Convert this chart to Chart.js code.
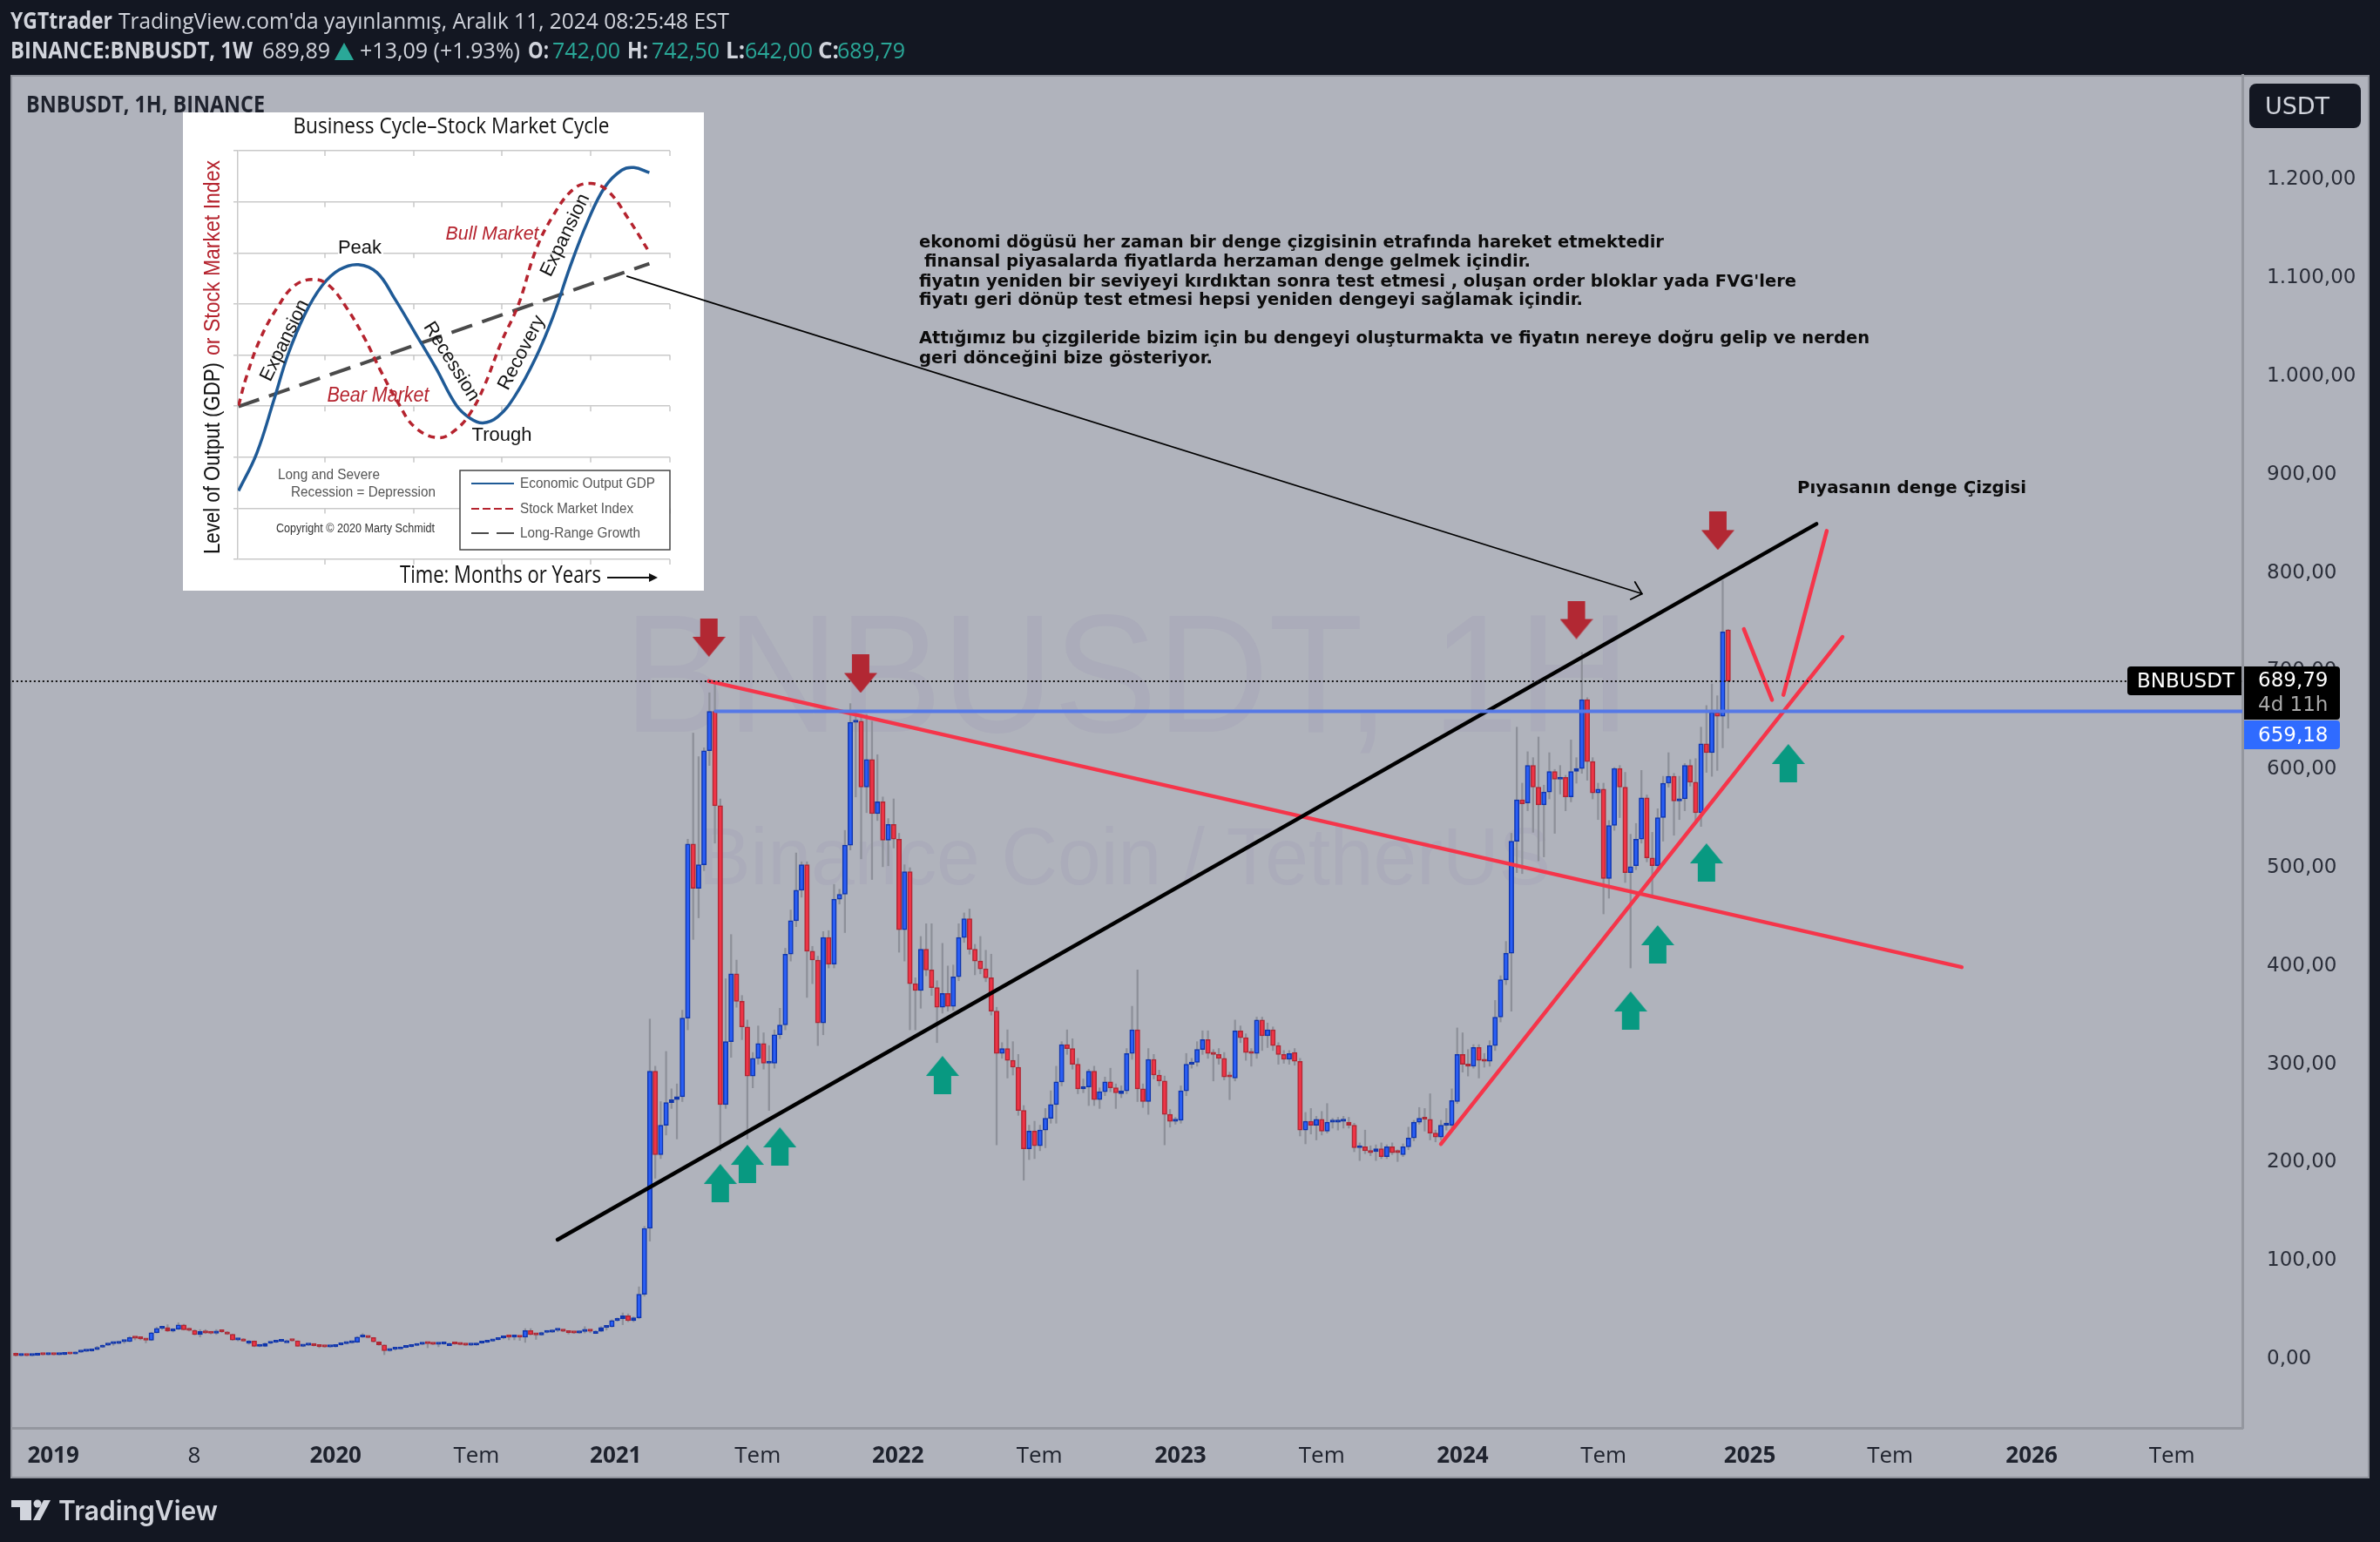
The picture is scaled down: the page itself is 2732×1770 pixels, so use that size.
<!DOCTYPE html>
<html lang="tr">
<head>
<meta charset="utf-8">
<title>BNBUSDT</title>
<script src="https://cdn.jsdelivr.net/npm/chart.js@4"></script>
<style>
    html, body { margin: 0; padding: 0; background: #131722; width: 2732px; height: 1770px; overflow: hidden; }
    #panel { position: absolute; left: 12px; top: 86px; width: 2708px; height: 1611px; box-sizing: border-box; background: #b0b3bc; border: 2px solid #8f929b; }
    #inset-box { position: absolute; left: 210px; top: 129px; width: 598px; height: 549px; background: #fff; }
    #inset { position: absolute; left: 0; top: 0; }
    #main { position: absolute; left: 0; top: 0; }
</style>
</head>
<body>
<div id="panel"></div>
<div id="inset-box"><canvas id="inset" width="598" height="549"></canvas></div>
<canvas id="main" width="2732" height="1770"></canvas>

<script>
// bougies hebdo (index 0 = nov. 2018)
const opens = [
    5.9,3.5,3.7,3.4,3.9,4.7,4.4,4.7,4.4,4.6,
    5.3,5.1,7.0,7.9,8.2,9.7,12.0,14.1,15.6,15.9,
    17.7,17.8,21.8,21.2,20.6,19.2,26.8,31.3,32.1,28.5,
    30.5,34.8,29.8,29.2,25.0,28.0,26.5,26.2,28.6,27.7,
    25.3,19.4,20.6,18.3,18.3,12.9,12.9,16.0,17.1,18.0,
    18.8,18.8,18.5,13.0,14.1,14.2,13.6,12.6,12.3,12.5,
    14.4,15.6,16.5,17.1,22.4,23.0,21.8,17.5,14.4,8.5,
    10.0,10.2,11.8,12.6,13.8,15.0,15.9,15.6,15.0,15.3,
    15.9,15.9,15.3,14.7,14.1,14.2,16.2,17.1,18.3,19.7,
    21.5,22.4,22.3,22.4,22.2,28.9,24.9,24.5,27.1,27.4,
    29.2,29.5,28.3,26.8,26.5,28.0,28.6,28.3,28.3,32.1,
    33.0,39.2,41.0,44.0,39.2,42.0,66,133,293,208,
    238,261,264,267,347,524,479,503,619,659,
    563,259,323,392,364,338,288,306,321,301,
    301,330,340,412,446,477,503,415,406,342,
    429,402,468,473,523,648,649,582,610,555,
    567,528,544,529,437,496,382,375,417,396,
    378,358,372,359,389,429,448,417,405,397,
    388,354,311,316,304,297,253,214,232,217,
    233,245,259,282,320,316,300,275,277,293,
    264,272,282,276,270,273,311,335,275,262,
    305,289,283,249,242,243,273,300,302,315,
    325,311,310,306,288,286,334,327,312,311,
    345,329,335,319,310,305,312,303,233,242,
    238,244,232,241,241,242,241,238,215,216,
    212,211,214,206,216,211,208,216,225,241,
    245,244,230,226,238,238,262,310,300,298,
    317,304,303,319,348,386,413,527,569,566,
    604,582,564,577,598,590,592,572,598,601,
    671,608,576,580,489,543,601,582,495,502,
    529,571,510,502,551,586,593,568,570,604,
    587,556,626,617,658,654,742
];
const closes = [
    3.5,3.7,3.4,3.9,4.7,4.4,4.7,4.4,4.6,5.3,
    5.1,7.0,7.9,8.2,9.7,12.0,14.1,15.6,15.9,17.7,
    17.8,21.8,21.2,20.6,19.2,26.8,31.3,32.1,28.5,30.5,
    34.8,29.8,29.2,25.0,28.0,26.5,26.2,28.6,27.7,25.3,
    19.4,20.6,18.3,18.3,12.9,13.1,16.0,17.1,18.0,18.8,
    18.8,18.5,13.0,14.1,14.2,13.6,12.6,12.3,12.5,14.4,
    15.6,16.5,17.1,22.4,23.0,21.8,17.5,14.4,8.5,10.0,
    10.2,11.8,12.6,13.8,15.0,15.9,15.6,15.0,15.3,15.9,
    15.9,15.3,14.7,14.1,14.2,16.2,17.1,18.3,19.7,21.5,
    22.4,22.3,22.4,22.2,28.9,24.9,24.5,27.1,27.4,29.2,
    29.5,28.3,26.8,26.5,28.0,28.6,28.3,28.3,32.1,33.0,
    39.2,41.0,44.0,39.2,42.0,66.1,133,293,208,238,
    261,264,267,347,524,479,503,619,659,563,
    259,323,392,364,338,288,306,321,301,302,
    330,340,412,446,477,503,415,406,342,429,
    402,468,473,523,648,649,582,610,555,567,
    528,544,529,437,496,382,375,417,396,378,
    358,372,359,389,429,448,417,405,397,388,
    354,311,316,304,297,253,214,232,217,233,
    245,259,282,320,316,300,275,277,293,264,
    272,282,276,271,273,311,335,275,262,305,
    289,283,249,242,243,273,300,302,315,325,
    311,310,306,287,287,334,327,312,311,345,
    329,335,319,310,305,311,303,233,242,238,
    244,232,241,242,242,243,238,215,216,212,
    210,214,206,216,210,210,216,225,241,245,
    244,230,226,238,239,263,310,300,298,317,
    304,303,319,348,386,413,527,569,565,604,
    582,564,577,598,590,592,572,598,601,671,
    608,576,580,489,543,601,582,495,501,529,
    571,510,502,551,586,593,568,570,604,587,
    556,626,617,658,654,740,689.79
];
const highs = [
    6.2,3.9,3.9,4.1,5.0,4.9,4.9,4.8,4.8,5.5,
    5.5,7.4,8.2,8.6,10.0,13.0,14.5,15.9,16.2,18.0,
    18.2,23.0,22.5,21.5,20.9,27.3,32.5,33.5,35.0,31.0,
    37.0,35.5,31.5,30.0,30.0,30.0,27.5,30.0,29.0,28.0,
    25.5,21.0,21.0,19.0,18.5,14.0,16.5,17.5,18.5,19.2,
    19.4,19.4,18.7,14.5,14.5,14.5,13.8,13.0,12.8,14.8,
    16.0,17.0,17.8,23.0,26.0,23.5,22.0,17.8,14.5,10.5,
    10.5,12.3,13.0,14.2,15.4,16.3,16.2,15.9,15.6,16.3,
    16.3,16.2,15.6,15.0,14.6,16.6,17.4,18.6,20.0,21.8,
    23.0,23.0,23.5,23.0,31.0,31.0,25.5,27.5,28.0,29.8,
    30.5,30.0,28.8,27.5,28.6,33.0,29.0,29.0,33.0,34.0,
    40.0,42.0,47.0,46.0,43.0,73.5,135,346,298,262,
    313,275,280,355,529,637,613,622,678,687,
    570,387,432,406,370,345,312,339,332,319,
    335,357,418,457,515,506,506,420,410,435,
    436,483,478,538,667,660,656,656,649,615,
    572,550,570,535,503,500,388,430,443,443,
    385,423,400,401,443,454,458,422,430,416,
    412,358,322,335,323,310,258,238,242,238,
    255,273,298,323,335,326,306,285,295,298,
    276,287,296,280,278,316,359,396,280,316,
    310,294,288,254,246,278,311,306,323,334,
    334,315,316,312,292,345,339,331,316,348,
    348,342,338,322,314,314,316,306,251,255,
    247,252,260,245,246,247,246,240,220,233,
    217,218,220,218,220,213,219,236,243,256,
    255,270,233,243,255,275,337,332,315,320,
    320,311,324,365,390,425,535,643,586,618,
    612,633,584,617,600,604,594,630,612,719,
    673,612,586,586,548,602,604,597,534,545,
    599,574,536,560,593,617,596,593,606,610,
    611,643,665,687,675,792,742.5
];
const lows = [
    3.0,3.2,3.1,3.2,3.7,4.1,4.2,4.1,4.2,4.4,
    4.8,4.9,6.8,7.6,8.0,9.4,11.8,13.8,14.0,15.5,
    16.0,17.5,19.5,19.5,16.5,18.8,26.5,30.0,28.0,27.5,
    30.0,29.5,28.5,24.5,22.5,26.0,25.5,25.0,27.0,25.0,
    19.0,18.5,18.0,15.0,12.5,12.5,12.6,15.5,16.8,17.7,
    18.3,18.0,12.8,12.6,13.8,13.2,11.5,12.0,12.0,12.2,
    14.1,15.3,16.2,16.8,22.0,21.5,17.2,14.0,4.5,8.0,
    9.0,10.0,11.5,12.3,13.5,14.6,11.5,14.6,12.5,15.0,
    15.5,15.0,14.4,13.8,13.8,13.9,15.9,16.8,18.0,19.4,
    20.5,19.5,19.5,19.0,17.0,24.5,20.0,24.2,26.5,27.0,
    28.0,27.8,25.5,26.0,26.2,26.5,26.8,26.0,28.0,29.5,
    32.5,38.5,35.0,38.0,38.0,41.0,64,120,184,204,
    228,255,224,262,335,427,449,497,604,525,
    212,255,307,358,325,224,276,300,295,253,
    296,326,335,405,440,470,368,382,319,330,
    398,398,463,434,518,572,509,556,488,548,
    501,502,520,414,405,335,335,357,390,370,
    322,352,354,355,385,424,412,391,392,384,
    350,218,306,286,289,248,182,203,204,212,
    215,240,240,278,310,295,270,271,258,258,
    255,268,272,255,266,270,305,262,256,249,
    285,278,218,236,239,240,268,296,298,310,
    306,283,300,284,264,283,322,304,298,306,
    314,317,314,300,301,300,299,227,219,229,
    223,228,230,235,233,235,235,211,202,209,
    207,202,204,204,208,201,206,213,222,239,
    232,223,221,223,233,235,260,292,288,296,
    286,297,298,314,343,381,354,495,494,558,
    536,507,511,570,535,575,558,567,586,596,
    589,570,549,453,469,538,551,485,398,498,
    525,506,471,498,527,582,533,549,558,583,
    546,542,597,593,599,622,642
];
const weeks = opens.map((_, i) => i);

const priceTicks = [0, 100, 200, 300, 400, 500, 600, 700, 800, 900, 1000, 1100, 1200];
const priceLabels = ['0,00', '100,00', '200,00', '300,00', '400,00', '500,00', '600,00', '700,00', '800,00', '900,00', '1.000,00', '1.100,00', '1.200,00'];
const timeTicks = [6.9, 32.9, 59, 85, 110.7, 136.9, 162.8, 188.9, 214.9, 241, 267, 293, 320, 345.9, 372, 397.9];
const timeLabels = ['2019', '8', '2020', 'Tem', '2021', 'Tem', '2022', 'Tem', '2023', 'Tem', '2024', 'Tem', '2025', 'Tem', '2026', 'Tem'];

// lignes dessinées sur le graphique
const equilibreX = [99.97, 332.3];
const equilibreY = [121.5, 849.8];
const resistanceX = [127.9, 359.1];
const resistanceY = [689.8, 398.8];
const supportX = [263, 337.1];
const supportY = [218.8, 734.8];
const descenteX = [318.9, 324.1];
const descenteY = [742.8, 670.8];
const remonteeX = [326.2, 334.2];
const remonteeY = [675.8, 842.8];
const renvoiX = [112.8, 300.1];
const renvoiY = [1101.8, 778.8];
const renvoiTeteX = [298.8, 300.1, 298];
const renvoiTeteY = [790.8, 778.8, 773.1];
const niveauX = [129.1, 410.9];
const niveauY = [659.18, 659.18];
const dernierX = [-0.7, 410.9];
const dernierY = [689.79, 689.79];

const flechesHautX = [130, 135, 141, 171, 298, 303, 312, 327.1];
const flechesHautY = [179.1, 198.6, 216.3, 289, 354.6, 422, 505.3, 606.4];
const flechesBasX = [127.9, 155.9, 288, 314.1];
const flechesBasY = [734.1, 697.3, 752.2, 842.7];

// schéma en haut à gauche
const gdpX = [0.04, 1.09, 2.08, 2.87, 3.85, 4.84, 5.83, 6.92, 8, 8.99, 10.18, 11.36, 12.55, 13.34, 14.07, 14.92, 15.91, 17.09, 18.08, 19.07, 20.06, 21.05, 22.04, 22.73, 23.62];
const gdpY = [1.34, 2.08, 3.13, 4, 4.8, 5.36, 5.67, 5.77, 5.61, 5.11, 4.43, 3.75, 3.01, 2.76, 2.67, 2.79, 3.2, 3.94, 4.74, 5.73, 6.6, 7.28, 7.62, 7.67, 7.57];
const stockX = [0.04, 0.49, 1.28, 2.27, 3.26, 4.35, 5.24, 6.23, 7.21, 8.2, 9.19, 10.18, 11.56, 12.55, 13.34, 14.13, 15.12, 16.11, 17.09, 18.08, 19.27, 20.26, 21.25, 22.43, 23.62];
const stockY = [3.01, 3.57, 4.31, 4.93, 5.36, 5.48, 5.36, 4.93, 4.37, 3.69, 3.07, 2.58, 2.38, 2.55, 2.86, 3.38, 4.25, 4.99, 6.04, 6.72, 7.25, 7.36, 7.21, 6.66, 6.01];
const growthX = [0.04, 23.62];
const growthY = [2.99, 5.79];
const insetGridY = [0, 1, 2, 3, 4, 5, 6, 7, 8];
const insetTicksX = [5, 10.1, 15.15, 20.25, 24.8];

const BLEU = '#2a5ef5', BLEU_BORD = '#0f35ad', ROUGE = '#ee3446', ROUGE_BORD = '#b02733', MECHE = '#8d9099';
const TEAL = '#2aa898', CLAIR = '#d1d4dc', SOMBRE = '#1e222d';

function pts(xs, ys) {
    return xs.map((x, i) => ({ x: x, y: ys[i] }));
}

function trait(xs, ys, color, width, dash) {
    return {
        type: 'line', data: pts(xs, ys), borderColor: color, borderWidth: width, borderDash: dash || [],
        borderCapStyle: dash ? 'butt' : 'round', pointRadius: 0, fill: false, tension: 0, order: 1
    };
}

function fleche(color, versHaut) {
    const c = document.createElement('canvas');
    c.width = 38;
    c.height = 44;
    const g = c.getContext('2d');
    g.fillStyle = color;
    if (!versHaut) { g.translate(0, 44); g.scale(1, -1); }
    g.beginPath();
    g.moveTo(19, 0); g.lineTo(38, 23); g.lineTo(29, 23); g.lineTo(29, 44);
    g.lineTo(9, 44); g.lineTo(9, 23); g.lineTo(0, 23);
    g.closePath();
    g.fill();
    return c;
}

function texte(ctx, str, x, y, font, color, maxW, align) {
    ctx.font = font;
    ctx.fillStyle = color;
    ctx.textAlign = align || 'left';
    ctx.textBaseline = 'middle';
    if (maxW) ctx.fillText(str, x, y, maxW);
    else ctx.fillText(str, x, y);
}

const filigrane = {
    id: 'filigrane',
    beforeDatasetsDraw(chart) {
        const ctx = chart.ctx;
        texte(ctx, 'BNBUSDT, 1H', 716, 787, '193px "Liberation Sans"', '#abacba', 1155);
        texte(ctx, 'Binance Coin / TetherUS', 802, 990, '92px "Liberation Sans"', '#abacba', 978);
    }
};

const habillage = {
    id: 'habillage',
    afterDraw(chart) {
        const ctx = chart.ctx;
        const OS = '"Open Sans"';
        // entête
        texte(ctx, 'YGTtrader', 12, 26, `700 26px ${OS}`, CLAIR, 117);
        texte(ctx, "TradingView.com'da yayınlanmış, Aralık 11, 2024 08:25:48 EST", 136, 26, `26px ${OS}`, CLAIR, 701);
        texte(ctx, 'BINANCE:BNBUSDT, 1W', 12, 60, `700 26px ${OS}`, CLAIR, 278);
        texte(ctx, '689,89', 301, 60, `26px ${OS}`, CLAIR, 78);
        ctx.fillStyle = TEAL;
        ctx.beginPath();
        ctx.moveTo(395, 49); ctx.lineTo(406, 69); ctx.lineTo(384, 69);
        ctx.closePath();
        ctx.fill();
        texte(ctx, '+13,09 (+1.93%)', 413, 60, `26px ${OS}`, CLAIR, 184);
        const ohlc = [['O:', 606, '742,00', 634], ['H:', 720, '742,50', 748], ['L:', 833, '642,00', 855], ['C:', 939, '689,79', 961]];
        ohlc.forEach(r => {
            texte(ctx, r[0], r[1], 60, `700 26px ${OS}`, CLAIR, 24);
            texte(ctx, r[2], r[3], 60, `26px ${OS}`, TEAL, 78);
        });
        texte(ctx, 'BNBUSDT, 1H, BINANCE', 30, 121, `700 27px ${OS}`, SOMBRE, 274);

        // notes
        const D = '"DejaVu Sans"';
        const notes = [
            ['ekonomi dögüsü her zaman bir denge çizgisinin etrafında hareket etmektedir', 1055, 279, 855],
            ['finansal piyasalarda fiyatlarda herzaman denge gelmek içindir.', 1061, 301, 696],
            ["fiyatın yeniden bir seviyeyi kırdıktan sonra test etmesi , oluşan order bloklar yada FVG'lere", 1055, 324, 1007],
            ['fiyatı geri dönüp test etmesi hepsi yeniden dengeyi sağlamak içindir.', 1055, 345, 762],
            ['Attığımız bu çizgileride bizim için bu dengeyi oluşturmakta ve fiyatın nereye doğru gelip ve nerden', 1055, 389, 1091],
            ['geri dönceğini bize gösteriyor.', 1055, 412, 337]
        ];
        notes.forEach(n => texte(ctx, n[0], n[1], n[2], `700 20px ${D}`, '#0c0c0c', n[3]));
        texte(ctx, 'Pıyasanın denge Çizgisi', 2063, 561, `700 20px ${D}`, '#0c0c0c', 263);

        // échelle de droite
        ctx.fillStyle = '#131722';
        ctx.beginPath();
        ctx.roundRect(2582, 96, 128, 51, 8);
        ctx.fill();
        texte(ctx, 'USDT', 2637, 124, `27px ${D}`, CLAIR, null, 'center');

        ctx.fillStyle = '#000';
        ctx.beginPath();
        ctx.roundRect(2442, 765, 131, 33, [4, 0, 0, 4]);
        ctx.fill();
        texte(ctx, 'BNBUSDT', 2453, 783, `23px ${D}`, '#fff', 112);
        ctx.fillStyle = '#000';
        ctx.beginPath();
        ctx.roundRect(2576, 765, 110, 61, [0, 4, 4, 0]);
        ctx.fill();
        texte(ctx, '689,79', 2592, 782, `23px ${D}`, '#fff', 82);
        texte(ctx, '4d 11h', 2592, 810, `23px ${D}`, '#a8a8a8', 82);
        ctx.fillStyle = '#2f6bff';
        ctx.beginPath();
        ctx.roundRect(2576, 827, 110, 33, [0, 4, 4, 0]);
        ctx.fill();
        texte(ctx, '659,18', 2592, 845, `23px ${D}`, '#fff', 82);

        // logo
        ctx.fillStyle = CLAIR;
        ctx.fillRect(13, 1722, 23, 8);
        ctx.fillRect(23, 1722, 13, 23);
        ctx.beginPath();
        ctx.arc(43, 1726, 4.5, 0, Math.PI * 2);
        ctx.fill();
        ctx.beginPath();
        ctx.moveTo(50, 1722); ctx.lineTo(58, 1722); ctx.lineTo(46, 1745); ctx.lineTo(38, 1745);
        ctx.closePath();
        ctx.fill();
        texte(ctx, 'TradingView', 67, 1736, '600 31px Inter', CLAIR, 183);
    }
};

new Chart(document.getElementById('main'), {
    type: 'bar',
    data: {
        datasets: [
            {
                data: weeks.map(i => ({ x: i, y: [lows[i], highs[i]] })),
                backgroundColor: MECHE, barThickness: 1.6, grouped: false, order: 6, borderWidth: 0
            },
            {
                data: weeks.map(i => ({ x: i, y: [opens[i], closes[i]] })),
                backgroundColor: weeks.map(i => {
                    const hausse = closes[i] >= opens[i];
                    // petits corps : on ne voit que la bordure
                    if (Math.abs(closes[i] - opens[i]) < 4) return hausse ? BLEU_BORD : ROUGE_BORD;
                    return hausse ? BLEU : ROUGE;
                }),
                borderColor: weeks.map(i => closes[i] >= opens[i] ? BLEU_BORD : ROUGE_BORD),
                borderWidth: 1.5, borderSkipped: false, barThickness: 5.4, minBarLength: 2.5, grouped: false, order: 5
            },
            trait(dernierX, dernierY, '#111', 2, [2, 3]),
            trait(niveauX, niveauY, '#5578e6', 4),
            trait(equilibreX, equilibreY, '#000', 4.5),
            trait(resistanceX, resistanceY, '#f5354a', 4.5),
            trait(supportX, supportY, '#f5354a', 4.5),
            trait(descenteX, descenteY, '#f5354a', 4.5),
            trait(remonteeX, remonteeY, '#f5354a', 4.5),
            trait(renvoiX, renvoiY, '#000', 1.8),
            trait(renvoiTeteX, renvoiTeteY, '#000', 1.8),
            {
                type: 'scatter', data: pts(flechesHautX, flechesHautY), pointStyle: fleche('#089981', true),
                pointRadius: 20, showLine: false, order: 0
            },
            {
                type: 'scatter', data: pts(flechesBasX, flechesBasY), pointStyle: fleche('#b22833', false),
                pointRadius: 20, showLine: false, order: 0
            }
        ]
    },
    options: {
        responsive: false,
        animation: false,
        devicePixelRatio: 1,
        // sinon le rayon des flèches décale la zone de tracé
        layout: { autoPadding: false, padding: { left: 14, top: 86, right: 0, bottom: 0 } },
        plugins: { legend: { display: false }, tooltip: { enabled: false } },
        scales: {
            x: {
                type: 'linear', min: -0.675, max: 410.9, offset: false, bounds: 'data',
                grid: { display: false, offset: false },
                border: { display: true, color: '#94979f', width: 3 },
                afterBuildTicks: axis => { axis.ticks = timeTicks.map(v => ({ value: v })); },
                afterFit: axis => { axis.height = 131; axis.paddingLeft = 0; axis.paddingRight = 0; },
                ticks: {
                    autoSkip: false, maxRotation: 0, padding: 9, color: SOMBRE,
                    callback: (v, i) => timeLabels[i],
                    font: ctx => ({
                        family: '"Open Sans"', size: 26,
                        weight: timeLabels[ctx.index] && timeLabels[ctx.index].length === 4 ? '700' : '400'
                    })
                }
            },
            y: {
                type: 'linear', position: 'right', min: -70, max: 1306.7, bounds: 'data',
                grid: { display: false },
                border: { display: true, color: '#94979f', width: 3 },
                afterBuildTicks: axis => { axis.ticks = priceTicks.map(v => ({ value: v })); },
                afterFit: axis => { axis.width = 158; axis.paddingTop = 0; axis.paddingBottom = 0; },
                ticks: {
                    autoSkip: false, padding: 20, color: '#2a2e39',
                    callback: (v, i) => priceLabels[i],
                    font: { family: '"DejaVu Sans"', size: 23 }
                }
            }
        }
    },
    plugins: [filigrane, habillage]
});

const schema = {
    id: 'schema',
    beforeDatasetsDraw(chart) {
        const ctx = chart.ctx;
        const x = chart.scales.x, y = chart.scales.y;
        ctx.strokeStyle = '#c9c9c9';
        ctx.lineWidth = 1.5;
        insetGridY.forEach(g => insetTicksX.forEach(t => {
            const px = x.getPixelForValue(t), py = y.getPixelForValue(g);
            ctx.beginPath();
            ctx.moveTo(px, py);
            ctx.lineTo(px, py + 6);
            ctx.stroke();
        }));
        ctx.fillStyle = '#fff';
        ctx.fillRect(178, 146, 52, 20);
        ctx.fillRect(318, 411, 241, 91);
    },
    afterDatasetsDraw(chart) {
        const ctx = chart.ctx;
        const L = '"Liberation Sans"';
        texte(ctx, 'Business Cycle–Stock Market Cycle', 308, 17, '26px "Open Sans"', '#111', 363, 'center');

        ctx.save();
        ctx.translate(35, 507);
        ctx.rotate(-Math.PI / 2);
        texte(ctx, 'Level of Output (GDP)', 0, 0, `25px ${L}`, '#111', 220);
        texte(ctx, 'or Stock Market Index', 228, 0, `25px ${L}`, '#b5232e', 224);
        ctx.restore();

        texte(ctx, 'Peak', 203, 156, `22px ${L}`, '#111', null, 'center');
        texte(ctx, 'Trough', 366, 371, `22px ${L}`, '#111', null, 'center');
        texte(ctx, 'Bull Market', 355, 140, `italic 22px ${L}`, '#b5232e', 107, 'center');
        texte(ctx, 'Bear Market', 224, 326, `italic 23px ${L}`, '#b5232e', 117, 'center');

        const penches = [['Expansion', 117, 262, -64, 101], ['Recession', 308, 286, 58, 103], ['Recovery', 389, 276, -62.5, 94], ['Expansion', 439, 141, -64, 103]];
        penches.forEach(p => {
            ctx.save();
            ctx.translate(p[1], p[2]);
            ctx.rotate(p[3] * Math.PI / 180);
            texte(ctx, p[0], 0, 0, `22px ${L}`, '#111', p[4], 'center');
            ctx.restore();
        });

        texte(ctx, 'Long and Severe', 109, 416, `17px ${L}`, '#555', 117);
        texte(ctx, 'Recession = Depression', 124, 436, `17px ${L}`, '#555', 166);
        texte(ctx, 'Copyright © 2020 Marty Schmidt', 107, 478, `14px ${L}`, '#333', 182);

        ctx.strokeStyle = '#444';
        ctx.lineWidth = 1.5;
        ctx.strokeRect(318, 411, 241, 91);
        const legende = [
            ['Economic Output GDP', 426, '#1f5a96', [], 155],
            ['Stock Market Index', 455, '#b5232e', [9, 4], 130],
            ['Long-Range Growth', 483, '#4a4a4a', [20, 9], 138]
        ];
        legende.forEach(r => {
            ctx.save();
            ctx.strokeStyle = r[2];
            ctx.lineWidth = 2.2;
            ctx.setLineDash(r[3]);
            ctx.beginPath();
            ctx.moveTo(331, r[1]);
            ctx.lineTo(380, r[1]);
            ctx.stroke();
            ctx.restore();
            texte(ctx, r[0], 387, r[1], `17px ${L}`, '#555', r[4]);
        });

        texte(ctx, 'Time: Months or Years', 249, 532, '27px "Open Sans"', '#111', 231);
        ctx.strokeStyle = '#111';
        ctx.lineWidth = 2;
        ctx.beginPath();
        ctx.moveTo(487, 534);
        ctx.lineTo(538, 534);
        ctx.stroke();
        ctx.fillStyle = '#111';
        ctx.beginPath();
        ctx.moveTo(545, 534); ctx.lineTo(535, 529); ctx.lineTo(535, 539);
        ctx.closePath();
        ctx.fill();
    }
};

new Chart(document.getElementById('inset'), {
    type: 'line',
    data: {
        datasets: [
            { data: pts(growthX, growthY), borderColor: '#4a4a4a', borderWidth: 4, borderDash: [25, 12], pointRadius: 0, order: 3 },
            { data: pts(gdpX, gdpY), borderColor: '#1f5a96', borderWidth: 3.5, pointRadius: 0, tension: 0.4, order: 2 },
            { data: pts(stockX, stockY), borderColor: '#b5232e', borderWidth: 3.5, borderDash: [8, 6], pointRadius: 0, tension: 0.4, order: 1 }
        ]
    },
    options: {
        responsive: false,
        animation: false,
        devicePixelRatio: 1,
        layout: { autoPadding: false, padding: { left: 63, top: 44, right: 39, bottom: 36 } },
        plugins: { legend: { display: false }, tooltip: { enabled: false } },
        scales: {
            x: {
                type: 'linear', min: 0, max: 24.8, bounds: 'data',
                grid: { display: false },
                border: { display: false },
                afterBuildTicks: axis => { axis.ticks = insetTicksX.map(v => ({ value: v })); },
                afterFit: axis => { axis.height = 0; },
                ticks: { display: false }
            },
            y: {
                type: 'linear', min: 0, max: 8, bounds: 'data',
                grid: { color: '#c9c9c9', lineWidth: 1.5, tickLength: 5 },
                border: { display: true, color: '#c9c9c9', width: 1.5 },
                afterBuildTicks: axis => { axis.ticks = insetGridY.map(v => ({ value: v })); },
                afterFit: axis => { axis.width = 0; },
                ticks: { display: false }
            }
        }
    },
    plugins: [schema]
});
</script>
</body>
</html>
